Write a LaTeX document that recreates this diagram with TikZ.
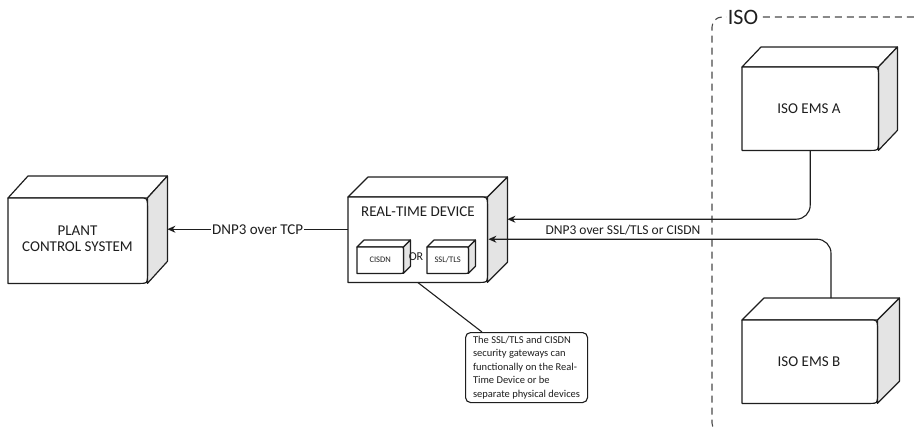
\documentclass[tikz,border=0pt]{standalone}
\usepackage{fontspec}
\setmainfont{Carlito}
\usetikzlibrary{calc,arrows.meta}
\definecolor{ink}{HTML}{1E1E1E}
\definecolor{sidegray}{HTML}{E4E4E4}
\tikzset{
  boxline/.style={draw=ink, line width=1.2pt, line join=round},
  frontface/.style={minimum width=#1, inner sep=0pt, anchor=north west},
  lbl/.style={text=ink, font=\fontsize{15}{18}\selectfont, align=center},
  conn/.style={draw=ink, line width=1.1pt},
  arr/.style={conn, -{Stealth[length=8pt,width=7pt]}},
  isoline/.style={draw=ink!80, line width=1.1pt, dash pattern=on 7pt off 5pt},
}
% #1 name, #2 depth x, #3 depth y, #4 corner radius
\newcommand{\cubebox}[4]{%
  \draw[boxline, fill=white] (#1.north west) -- ++(#2,-#3) -- ($(#1.north east)+(#2,-#3)$) -- (#1.north east) -- cycle;
  \draw[boxline, fill=sidegray] (#1.north east) -- ++(#2,-#3) -- ($(#1.south east)+(#2,-#3)$) -- (#1.south east) -- cycle;
  \draw[boxline, fill=white] (#1.south west) -- (#1.north west) -- ($(#1.north east)+(-#4,0)$) .. controls (#1.north east) .. ($(#1.north east)+(0,#4)$) -- ($(#1.south east)+(0,-#4)$) .. controls (#1.south east) .. ($(#1.south east)+(-#4,0)$) -- cycle;
}
\begin{document}
\begin{tikzpicture}[x=1pt,y=-1pt]
\useasboundingbox[fill=white] (0,0) rectangle (915,429);

% ISO boundary
\draw[isoline, rounded corners=10pt] (722,433) -| (712,17) -- (920,17);
\node[lbl, fill=white, inner sep=1pt, font=\fontsize{22}{24}\selectfont] (isolbl) at (743,17) {ISO};

% Boxes (front faces)
\path (8,198) node[frontface=139pt, minimum height=85pt] (plant) {};
\path (348,197) node[frontface=139pt, minimum height=85pt] (rtd) {};
\path (742,67) node[frontface=136pt, minimum height=83pt] (emsA) {};
\path (742,320) node[frontface=135pt, minimum height=83pt] (emsB) {};
\path (357,247) node[frontface=46pt, minimum height=26pt] (cisdn) {};
\path (427,247) node[frontface=41pt, minimum height=26pt] (ssl) {};

\cubebox{plant}{20}{22}{8}
\cubebox{rtd}{20}{20}{8}
\cubebox{emsA}{19}{20}{8}
\cubebox{emsB}{22}{22}{8}
\cubebox{cisdn}{7}{7}{2}
\cubebox{ssl}{7}{7}{2}

% Labels
\node[lbl] (plantlbl) at (77.5,239) {PLANT\\[-2pt]CONTROL SYSTEM};
\node[lbl] (rtdlbl) at (418,212) {REAL-TIME DEVICE};
\node[lbl] (emsAlbl) at (809,109) {ISO EMS A};
\node[lbl] (emsBlbl) at (809,362) {ISO EMS B};
\node[lbl, font=\fontsize{8.5}{10}\selectfont] (cisdnlbl) at (cisdn.center) {CISDN};
\node[lbl, font=\fontsize{8.5}{10}\selectfont] (ssllbl) at (ssl.center) {SSL/TLS};
\node[lbl, font=\fontsize{12}{14}\selectfont] (orlbl) at (416,257) {OR};

% Note
\node[draw=ink, line width=1.1pt, rounded corners=5pt, anchor=north west, minimum width=122pt, inner xsep=3pt, inner ysep=3pt, minimum height=70pt, align=left, text=ink, font=\fontsize{10.5}{13.5}\selectfont] (note) at (465,332)
  {The SSL/TLS and CISDN\\security gateways can\\functionally on the Real-\\Time Device or be\\separate physical devices};

% Connectors
\coordinate (plantside) at ($(plant.east)+(20,-11.5)$);
\coordinate (rtdleft) at (rtd.west |- plantside);
\draw[arr] (rtdleft) -- node[lbl, fill=white, inner sep=1pt] (tcplbl) {DNP3 over TCP} (plantside);

\coordinate (rtdsideA) at ($(rtd.east)+(20,-20.5)$);
\draw[arr, rounded corners=14pt] (emsA.south) |- (rtdsideA);

\coordinate (emsBtop) at ($(emsB.north west)+(89,-22)$);
\coordinate (rtdfrontB) at ($(rtd.east)+(1,-0.5)$);
\draw[arr, rounded corners=14pt] (emsBtop) |- (rtdfrontB);
\node[lbl, font=\fontsize{13.5}{16}\selectfont] (ssllink) at (623,230) {DNP3 over SSL/TLS or CISDN};

\draw[conn] (rtd.south) -- ($(note.north west)+(17,0)$);
\end{tikzpicture}
\end{document}
